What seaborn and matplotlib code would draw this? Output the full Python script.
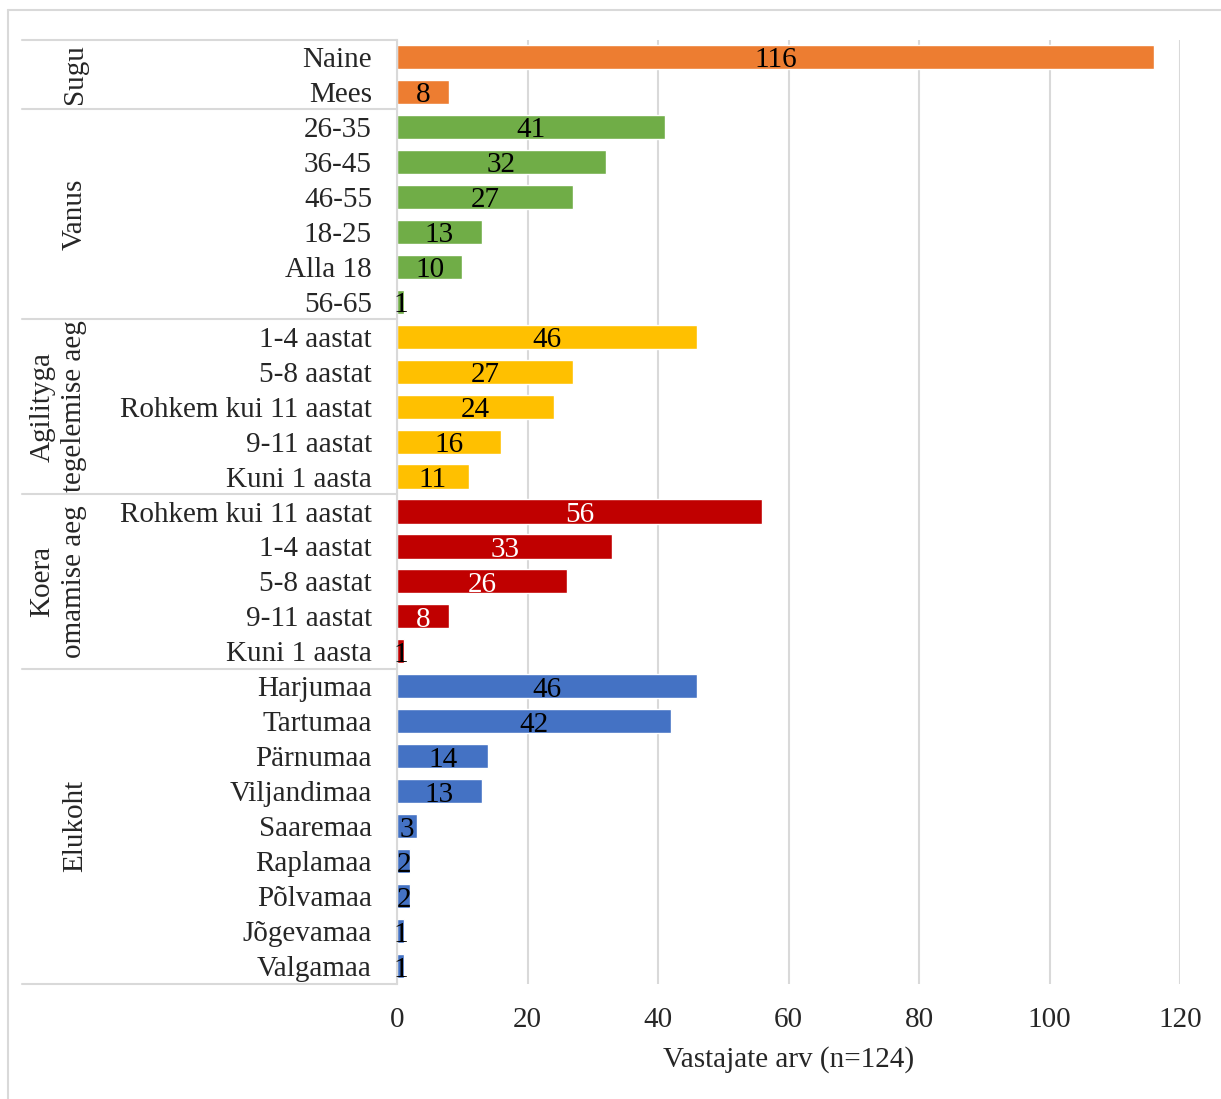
import pandas as pd
import matplotlib.pyplot as plt
import seaborn as sns
from matplotlib.lines import Line2D
from matplotlib.transforms import blended_transform_factory

sns.set_theme(style="white")
plt.rcParams["font.family"] = ["Liberation Serif", "DejaVu Serif"]

groups = ["Sugu", "Vanus", "Agilityga\ntegelemise aeg", "Koera\nomamise aeg", "Elukoht"]
sugu = ["Naine", "Mees"]
sugu_n = [116, 8]
vanus = ["26-35", "36-45", "46-55", "18-25", "Alla 18", "56-65"]
vanus_n = [41, 32, 27, 13, 10, 1]
agility = ["1-4 aastat", "5-8 aastat", "Rohkem kui 11 aastat", "9-11 aastat", "Kuni 1 aasta"]
agility_n = [46, 27, 24, 16, 11]
koer = ["Rohkem kui 11 aastat", "1-4 aastat", "5-8 aastat", "9-11 aastat", "Kuni 1 aasta"]
koer_n = [56, 33, 26, 8, 1]
elukoht = ["Harjumaa", "Tartumaa", "Pärnumaa", "Viljandimaa", "Saaremaa",
           "Raplamaa", "Põlvamaa", "Jõgevamaa", "Valgamaa"]
elukoht_n = [46, 42, 14, 13, 3, 2, 2, 1, 1]
colors = ["#ED7D31", "#70AD47", "#FFC000", "#C00000", "#4472C4"]
label_colors = ["black", "black", "black", "white", "black"]

parts = [(sugu, sugu_n), (vanus, vanus_n), (agility, agility_n), (koer, koer_n), (elukoht, elukoht_n)]
rows = []
for g, (labels, vals) in zip(groups, parts):
    for lab, v in zip(labels, vals):
        rows.append({"group": g, "label": lab, "key": f"{g}|{lab}", "n": v})
df = pd.DataFrame(rows)

fig = plt.figure(figsize=(12.21, 10.99), dpi=100)
ax = fig.add_axes([397 / 1221, 1 - 983.5 / 1099, 783 / 1221, 944 / 1099])
sns.barplot(data=df, x="n", y="key", hue="group", order=df["key"], hue_order=groups,
            palette=colors, width=0.69, dodge=False, legend=False, saturation=1, ax=ax)

fs = 21
for i, r in df.iterrows():
    gi = groups.index(r["group"])
    c = label_colors[gi] if r["n"] > 2 else "black"
    ax.text(r["n"] / 2, i + 0.1, str(r["n"]), ha="center", va="center",
            fontsize=fs, color=c)

ax.set_xlim(0, 120)
ax.set_xticks(range(0, 121, 20))
ax.set_yticks(range(len(df)))
ax.set_yticklabels(df["label"], fontsize=fs)
ax.tick_params(axis="x", length=0, pad=17, labelsize=fs)
ax.tick_params(axis="y", length=0, pad=18)
ax.set_ylabel("")
ax.set_xlabel("Vastajate arv (n=124)", fontsize=fs, labelpad=9)
ax.xaxis.grid(True, color="#d9d9d9", lw=1.5)
ax.set_axisbelow(True)
for s in ["top", "right", "bottom"]:
    ax.spines[s].set_visible(False)
ax.spines["left"].set_color("#d9d9d9")
ax.spines["left"].set_linewidth(1.5)

tr = blended_transform_factory(ax.transAxes, ax.transData)
x0 = (22 - 397) / 783
bounds = [-0.5]
start = 0
for labels, _ in parts:
    start += len(labels)
    bounds.append(start - 0.5)
for b in bounds:
    ax.add_line(Line2D([x0, 0], [b, b], transform=tr, color="#d9d9d9", lw=1.5, clip_on=False))

for gi, g in enumerate(groups):
    mid = (bounds[gi] + bounds[gi + 1]) / 2
    xg = (58 - 397) / 783 if "\n" in g else (75 - 397) / 783
    ax.text(xg, mid, g, transform=tr, rotation=90, ha="center", va="center",
            fontsize=fs, linespacing=1.25, multialignment="center")

fig.add_artist(Line2D([8 / 1221, 8 / 1221], [0, 1 - 10 / 1099], color="#d9d9d9", lw=1.5))
fig.add_artist(Line2D([8 / 1221, 1], [1 - 10 / 1099, 1 - 10 / 1099], color="#d9d9d9", lw=1.5))

fig.savefig("out.png", dpi=100)
